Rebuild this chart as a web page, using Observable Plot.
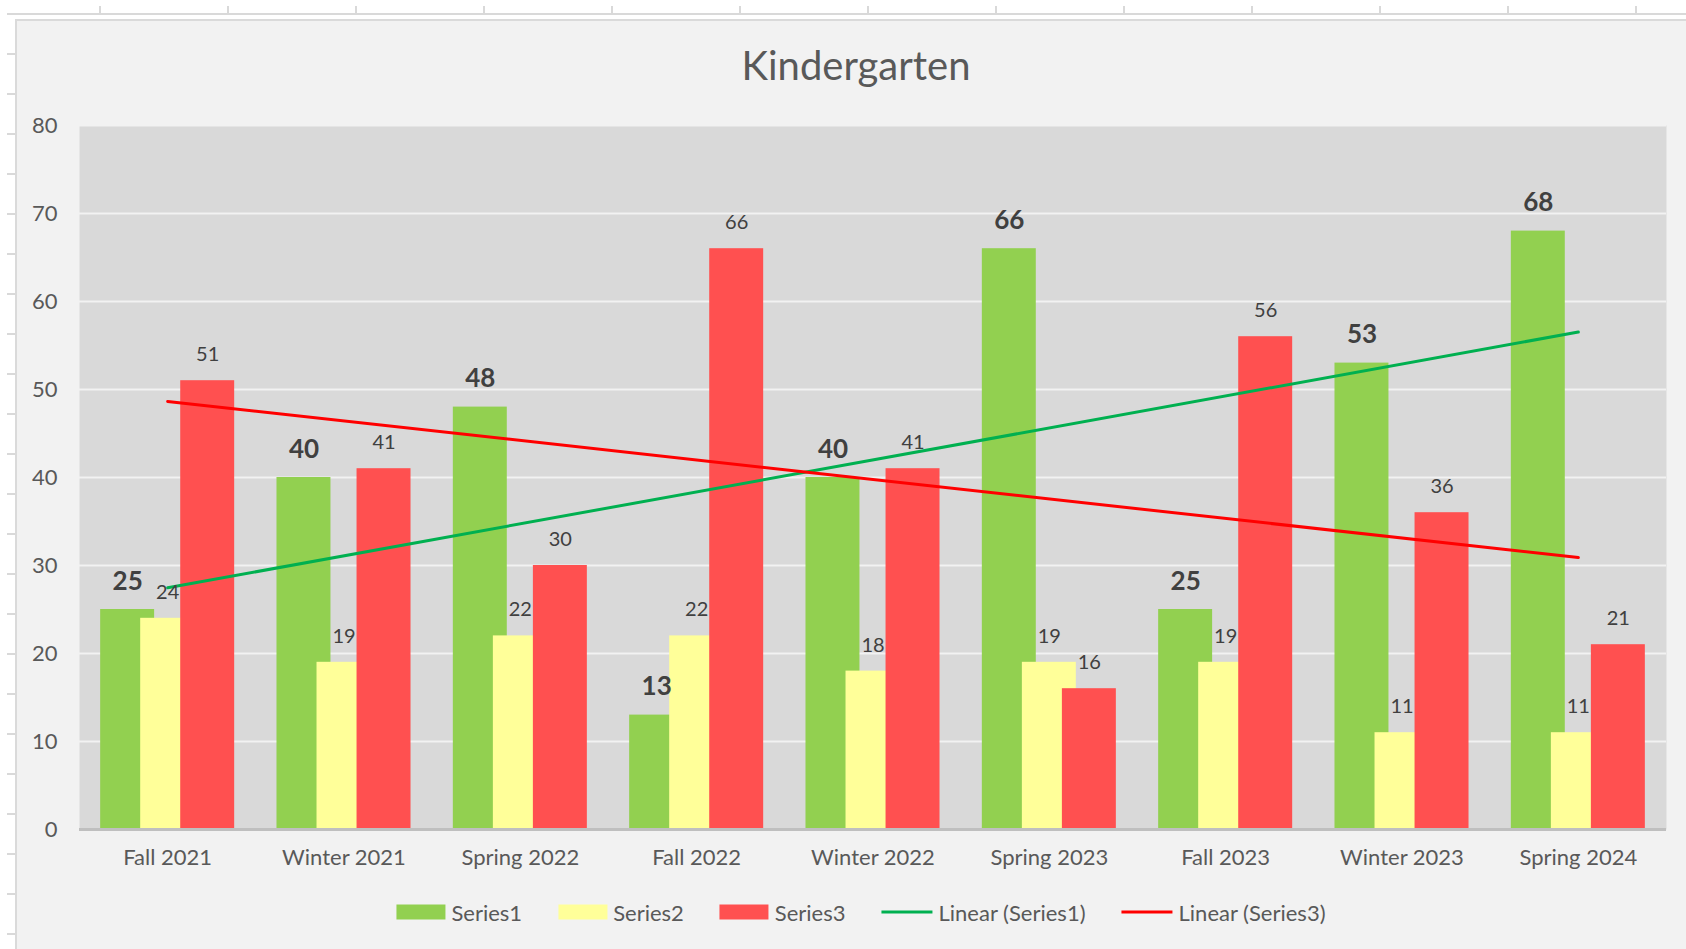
<!DOCTYPE html>
<html>
<head>
<meta charset="utf-8">
<script src="https://cdn.jsdelivr.net/npm/d3@7"></script>
<script src="https://cdn.jsdelivr.net/npm/@observablehq/plot@0.6"></script>
<style>
html, body { margin: 0; padding: 0; background: #ffffff; width: 1686px; height: 949px; overflow: hidden; font-family: Lato, "Open Sans", sans-serif; }
#sheet { position: absolute; left: 0; top: 0; width: 1686px; height: 949px; }
.sl { position: absolute; background: #d9d9d9; }
#area { position: absolute; left: 15px; top: 19px; width: 1671px; height: 930px; background: #f2f2f2; border-left: 2px solid #dadada; border-top: 2px solid #dadada; box-sizing: border-box; }
#title { position: absolute; left: 856px; top: 65px; transform: translate(-50%, -50%); font-size: 40px; color: #595959; white-space: nowrap; }
#chart { position: absolute; left: 0; top: 95px; }
#legend { position: absolute; top: 912px; left: 861px; transform: translate(-50%, -50%); display: flex; align-items: center; font-size: 22px; color: #595959; white-space: nowrap; }
.item { display: flex; align-items: center; margin: 0 18px; }
.sw { width: 49px; height: 15px; margin-right: 6px; }
.ln { width: 51px; height: 3px; margin-right: 6px; }
</style>
</head>
<body>
<div id="sheet"></div>
<div id="area"></div>
<div id="title">Kindergarten</div>
<div id="chart"></div>
<div id="legend"></div>
<script>
// ---- data ----
const categories = ["Fall 2021", "Winter 2021", "Spring 2022", "Fall 2022", "Winter 2022", "Spring 2023", "Fall 2023", "Winter 2023", "Spring 2024"];
const series1 = [25, 40, 48, 13, 40, 66, 25, 53, 68];
const series2 = [24, 19, 22, 22, 18, 19, 19, 11, 11];
const series3 = [51, 41, 30, 66, 41, 16, 56, 36, 21];
const seriesNames = ["Series1", "Series2", "Series3"];
const trendNames = ["Linear (Series1)", "Linear (Series3)"];
const yTicks = [0, 10, 20, 30, 40, 50, 60, 70, 80];

// ---- styles ----
const barColors = ["#92d050", "#ffff99", "#ff5050"];
const trendColors = ["#00b050", "#ff0000"];

// spreadsheet backdrop decoration
const sheet = document.getElementById("sheet");
function sl(l, t, w, h) { const d = document.createElement("div"); d.className = "sl"; Object.assign(d.style, {left: l + "px", top: t + "px", width: w + "px", height: h + "px"}); sheet.appendChild(d); }
sl(7, 13, 1679, 2);
for (let x = 100; x < 1686; x += 128) sl(x - 1, 6, 2, 9);
for (let y = 54; y < 949; y += 40) sl(7, y - 1, 9, 2);

// ---- build rows ----
const allSeries = [series1, series2, series3];
const rows = allSeries.flatMap((vals, k) => vals.map((v, i) => ({i, k, series: seriesNames[k], value: v})));
const STEP = 0.227, W = 0.306;
const cx = d => d.i + (d.k - 1) * STEP;
const r1 = rows.filter(d => d.k === 0), r3 = rows.filter(d => d.k === 2);
const rOther = rows.filter(d => d.k !== 0);

const plot = Plot.plot({
  width: 1686, height: 795,
  marginLeft: 79, marginRight: 20, marginTop: 30, marginBottom: 61,
  style: {background: "transparent", fontFamily: "Lato, sans-serif", overflow: "visible"},
  x: {domain: [-0.5, categories.length - 0.5], axis: null},
  y: {domain: [0, 80], axis: null},
  color: {domain: seriesNames, range: barColors},
  marks: [
    Plot.frame({fill: "#d9d9d9", stroke: "none"}),
    Plot.gridY(yTicks, {stroke: "#f2f2f2", strokeOpacity: 1, strokeWidth: 2}),
    Plot.rectY(rows, {x1: d => cx(d) - W / 2, x2: d => cx(d) + W / 2, y1: 0, y2: "value", fill: "series"}),
    Plot.ruleY([0], {stroke: "#bfbfbf", strokeWidth: 3}),
    Plot.linearRegressionY(r1, {x: "i", y: "value", stroke: trendColors[0], strokeWidth: 3, ci: 0}),
    Plot.linearRegressionY(r3, {x: "i", y: "value", stroke: trendColors[1], strokeWidth: 3, ci: 0}),
    Plot.text(rOther, {x: cx, y: "value", text: "value", dy: -26, fontSize: 20, fill: "#404040", lineAnchor: "middle"}),
    Plot.text(r1, {x: cx, y: "value", text: "value", dy: -28, fontSize: 26, fontWeight: "bold", fill: "#404040", lineAnchor: "middle"}),
    Plot.axisX({ticks: categories.map((_, i) => i), tickFormat: i => categories[i], tickSize: 0, tickPadding: 20, fontSize: 22, color: "#595959", label: null}),
    Plot.axisY({ticks: yTicks, tickSize: 0, tickPadding: 22, fontSize: 22, color: "#595959", label: null})
  ]
});
document.getElementById("chart").appendChild(plot);

// legend
const legend = document.getElementById("legend");
seriesNames.forEach((n, k) => {
  const it = document.createElement("div"); it.className = "item";
  it.innerHTML = `<span class="sw" style="background:${barColors[k]}"></span><span>${n}</span>`;
  legend.appendChild(it);
});
trendNames.forEach((n, k) => {
  const it = document.createElement("div"); it.className = "item";
  it.innerHTML = `<span class="ln" style="background:${trendColors[k]}"></span><span>${n}</span>`;
  legend.appendChild(it);
});
</script>
</body>
</html>
